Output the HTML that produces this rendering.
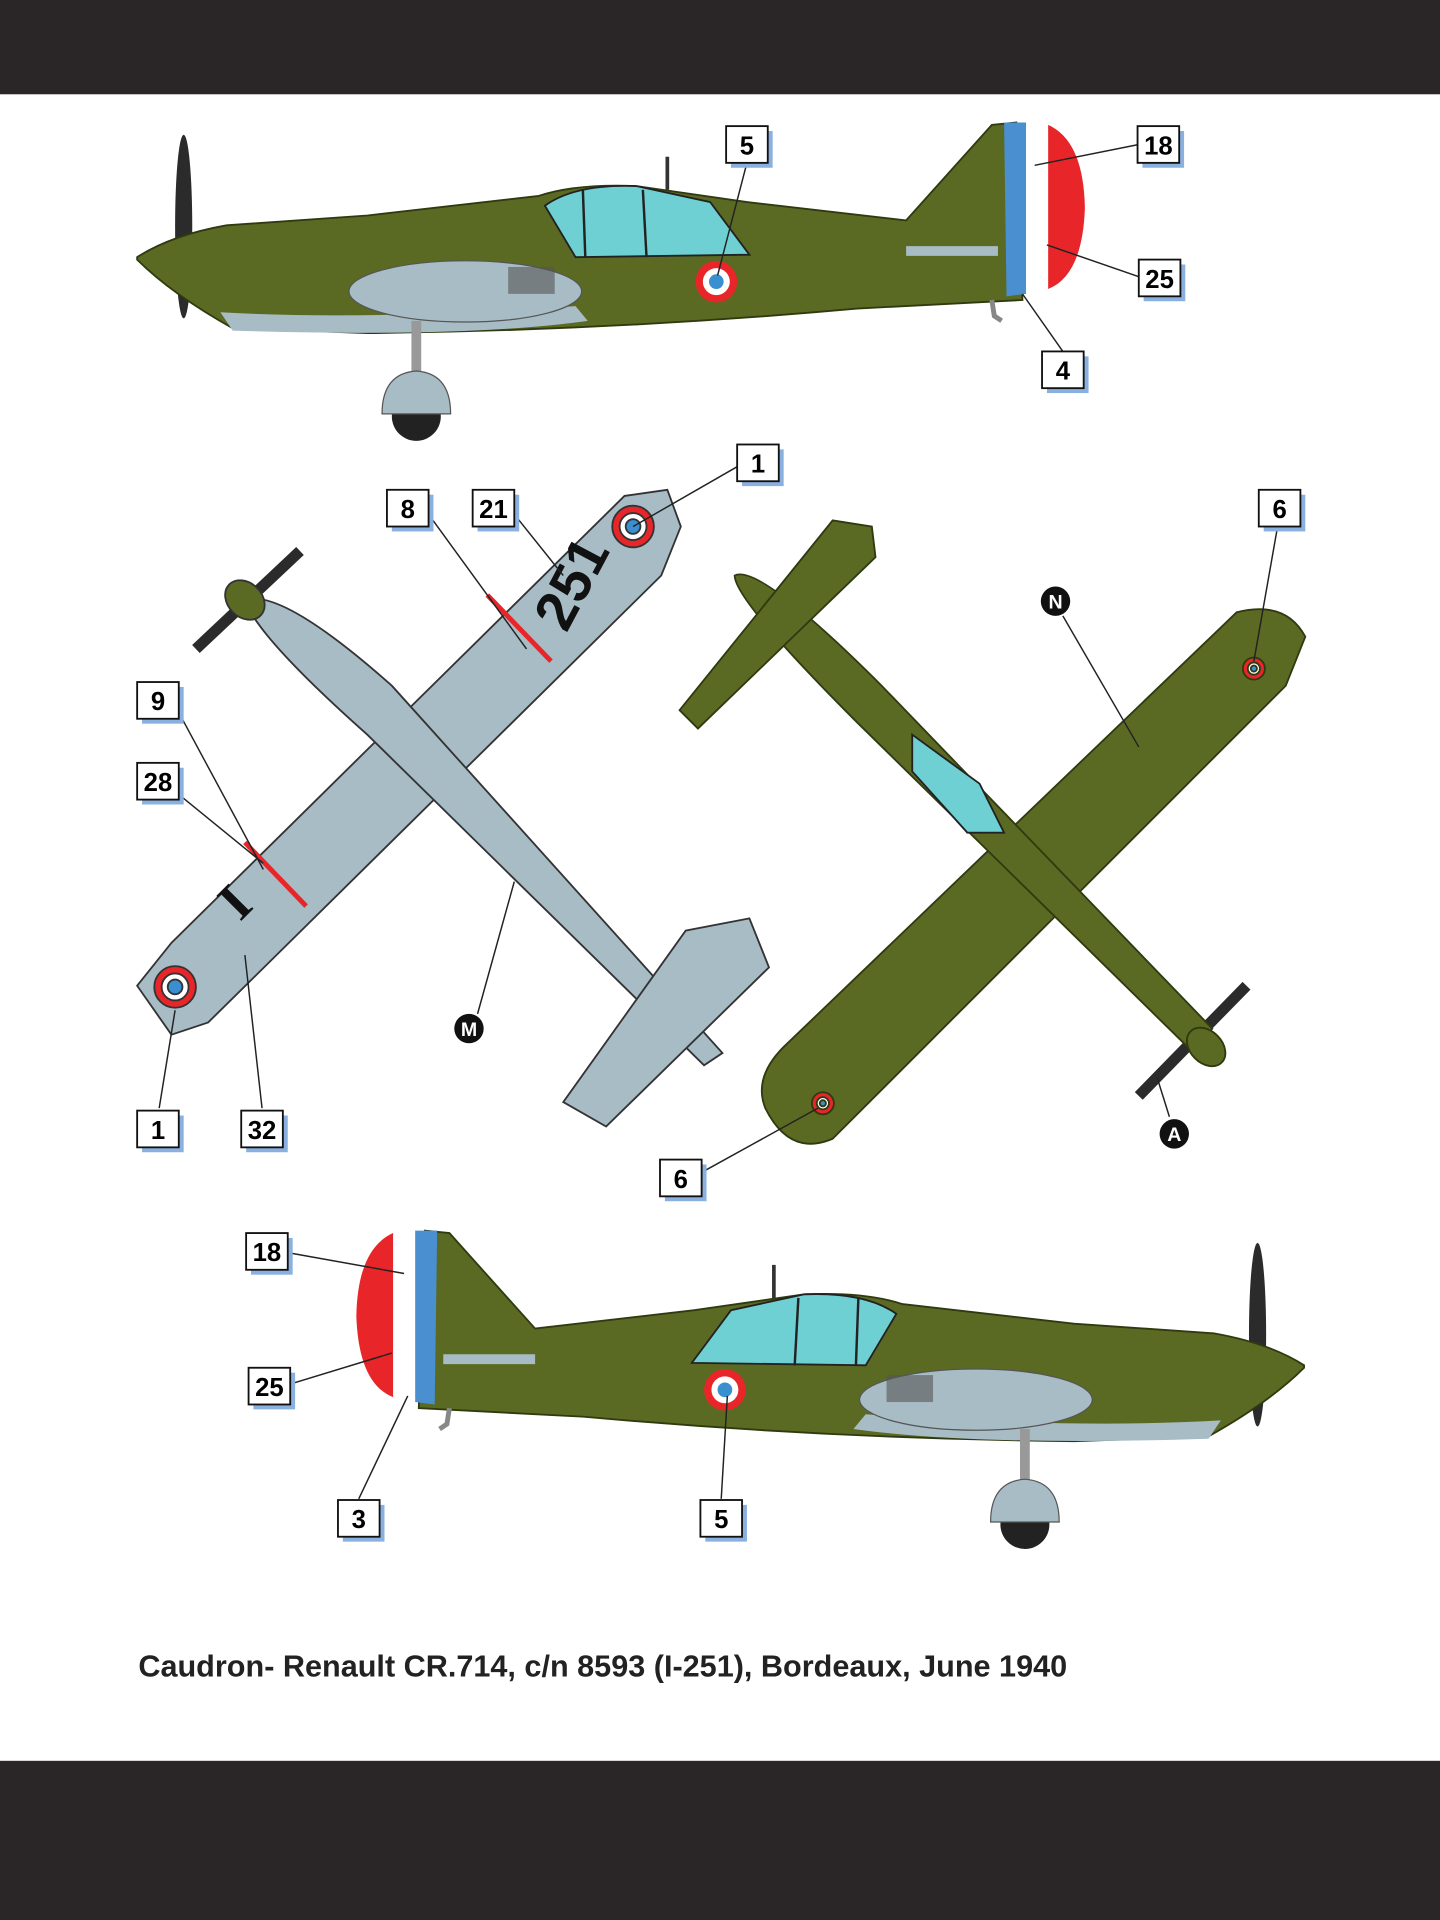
<!DOCTYPE html>
<html><head><meta charset="utf-8"><style>
html,body{margin:0;padding:0;background:#fff;width:1440px;height:1920px;overflow:hidden}
svg{display:block}
.lb{font-family:"Liberation Sans",Arial,sans-serif;font-weight:bold;font-size:21px;text-anchor:middle}
</style></head><body>
<svg width="1440" height="1920" viewBox="0 0 1176 1568" xmlns="http://www.w3.org/2000/svg">
<defs>
<g id="side">
  <ellipse cx="150" cy="185" rx="7" ry="75" fill="#2b2b2b"/>
  <path d="M112,210 Q140,192 185,184 L300,176 L440,160 Q470,150 520,152 L610,165 L740,180 L810,102 L830,100 L835,245 L700,252 Q500,270 300,272 L190,268 Q140,240 112,212 Z" fill="#5b6a22" stroke="#2f3a10" stroke-width="1.5"/>
  <path d="M820,100 L838,100 L838,240 L822,242 Z" fill="#4a8fd0"/>
  <path d="M838,100 L856,102 L856,236 L838,240 Z" fill="#fff"/>
  <path d="M856,102 Q885,115 886,170 Q884,225 856,236 Z" fill="#e8262a"/>
  <path d="M180,255 Q300,262 470,250 L480,262 Q380,276 190,270 Z" fill="#a8bcc6"/>
  <ellipse cx="380" cy="238" rx="95" ry="25" fill="#a8bcc6" stroke="#555" stroke-width="1"/>
  <rect x="415" y="218" width="38" height="22" fill="#555" opacity=".6"/>
  <path d="M445,168 Q470,150 520,152 L580,165 L612,208 L470,210 Z" fill="#6fd0d4" stroke="#222" stroke-width="1.5"/>
  <line x1="476" y1="155" x2="478" y2="210" stroke="#222" stroke-width="2"/>
  <line x1="525" y1="155" x2="528" y2="210" stroke="#222" stroke-width="2"/>
  <path d="M740,205 L815,205" stroke="#a8bcc6" stroke-width="8"/>
  <line x1="545" y1="128" x2="545" y2="155" stroke="#333" stroke-width="3"/>
  <circle cx="585" cy="230" r="17" fill="#e8262a"/><circle cx="585" cy="230" r="11" fill="#fff"/><circle cx="585" cy="230" r="6" fill="#3a8fd0"/>
  <line x1="340" y1="262" x2="340" y2="320" stroke="#999" stroke-width="8"/>
  <circle cx="340" cy="340" r="20" fill="#222"/>
  <path d="M312,338 Q312,305 340,303 Q368,305 368,338 Z" fill="#a8bcc6" stroke="#555"/>
  <path d="M810,245 L812,258 L818,262" stroke="#888" stroke-width="4" fill="none"/>
</g>
</defs>
<rect x="0" y="0" width="1176" height="77" fill="#2a2628"/>
<rect x="0" y="1438" width="1176" height="130" fill="#2a2628"/>

<use href="#side"/>
<g transform="translate(1177,905) scale(-1,1)"><use href="#side"/></g>

<g stroke="#333" stroke-width="1.5">
  <path d="M160,530 L245,450" stroke="#2b2b2b" stroke-width="9"/>
  <path d="M112,805 L140,770 L510,405 L545,400 L556,430 L540,470 L170,835 L140,845 Z" fill="#a8bcc6"/>
  <path d="M200,490 Q230,480 320,560 L590,860 L575,870 L300,600 Q210,520 200,490 Z" fill="#a8bcc6"/>
  <path d="M460,900 L495,920 L628,790 L612,750 L560,760 Z" fill="#a8bcc6"/>
  <ellipse cx="200" cy="490" rx="18" ry="14" fill="#5b6a22" transform="rotate(45 200 490)"/>
  <circle cx="517" cy="430" r="17" fill="#e8262a"/><circle cx="517" cy="430" r="11" fill="#fff"/><circle cx="517" cy="430" r="6" fill="#3a8fd0"/>
  <circle cx="143" cy="806" r="17" fill="#e8262a"/><circle cx="143" cy="806" r="11" fill="#fff"/><circle cx="143" cy="806" r="6" fill="#3a8fd0"/>
  <line x1="398" y1="486" x2="450" y2="540" stroke="#e8262a" stroke-width="4"/>
  <line x1="200" y1="688" x2="250" y2="740" stroke="#e8262a" stroke-width="4"/>
</g>
<text x="470" y="490" font-family="Liberation Sans,sans-serif" font-weight="bold" font-size="46" transform="rotate(-62 470 478)" text-anchor="middle" fill="#111">251</text>
<text x="190" y="752" font-family="Liberation Serif,serif" font-weight="bold" font-size="44" transform="rotate(-45 190 735)" text-anchor="middle" fill="#111">I</text>

<g stroke="#2f3a10" stroke-width="1.5">
  <path d="M930,895 L1018,805" stroke="#2b2b2b" stroke-width="9"/>
  <path d="M625,905 Q615,880 640,855 L1010,500 Q1050,490 1066,520 L1050,560 L680,930 Q645,945 625,905 Z" fill="#5b6a22"/>
  <path d="M600,470 Q620,460 720,560 L990,840 L975,860 L700,590 Q600,490 600,470 Z" fill="#5b6a22"/>
  <path d="M555,580 L570,595 L715,455 L712,430 L680,425 Z" fill="#5b6a22"/>
  <ellipse cx="985" cy="855" rx="18" ry="13" fill="#5b6a22" transform="rotate(45 985 855)"/>
  <path d="M745,600 L800,640 L820,680 L790,680 L745,630 Z" fill="#6fd0d4" stroke="#222"/>
  <circle cx="1024" cy="546" r="9" fill="#e8262a"/><circle cx="1024" cy="546" r="5" fill="#fff"/><circle cx="1024" cy="546" r="2.5" fill="#3a8fd0"/>
  <circle cx="672" cy="901" r="9" fill="#e8262a"/><circle cx="672" cy="901" r="5" fill="#fff"/><circle cx="672" cy="901" r="2.5" fill="#3a8fd0"/>
</g>

<g stroke="#222" stroke-width="1.2" fill="none">
  <line x1="610" y1="133" x2="586" y2="225"/>
  <line x1="930" y1="118" x2="845" y2="135"/>
  <line x1="930" y1="226" x2="855" y2="200"/>
  <line x1="868" y1="287" x2="835" y2="240"/>
  <line x1="604" y1="380" x2="517" y2="430"/>
  <line x1="350" y1="420" x2="430" y2="530"/>
  <line x1="420" y1="420" x2="460" y2="470"/>
  <line x1="145" y1="580" x2="215" y2="710"/>
  <line x1="145" y1="648" x2="215" y2="705"/>
  <line x1="130" y1="905" x2="143" y2="825"/>
  <line x1="214" y1="905" x2="200" y2="780"/>
  <line x1="1043" y1="432" x2="1024" y2="540"/>
  <line x1="572" y1="958" x2="668" y2="905"/>
  <line x1="868" y1="503" x2="930" y2="610"/>
  <line x1="390" y1="828" x2="420" y2="720"/>
  <line x1="955" y1="912" x2="945" y2="880"/>
  <line x1="235" y1="1023" x2="330" y2="1040"/>
  <line x1="238" y1="1130" x2="320" y2="1105"/>
  <line x1="293" y1="1224" x2="333" y2="1140"/>
  <line x1="589" y1="1224" x2="594" y2="1140"/>
</g>

<g class="lb">
<g transform="translate(610,118)"><rect x="-13" y="-11" width="34" height="30" fill="#8ab0e0"/><rect x="-17" y="-15" width="34" height="30" fill="#fff" stroke="#111" stroke-width="1.5"/><text y="8">5</text></g>
<g transform="translate(946,118)"><rect x="-13" y="-11" width="34" height="30" fill="#8ab0e0"/><rect x="-17" y="-15" width="34" height="30" fill="#fff" stroke="#111" stroke-width="1.5"/><text y="8">18</text></g>
<g transform="translate(947,227)"><rect x="-13" y="-11" width="34" height="30" fill="#8ab0e0"/><rect x="-17" y="-15" width="34" height="30" fill="#fff" stroke="#111" stroke-width="1.5"/><text y="8">25</text></g>
<g transform="translate(868,302)"><rect x="-13" y="-11" width="34" height="30" fill="#8ab0e0"/><rect x="-17" y="-15" width="34" height="30" fill="#fff" stroke="#111" stroke-width="1.5"/><text y="8">4</text></g>
<g transform="translate(619,378)"><rect x="-13" y="-11" width="34" height="30" fill="#8ab0e0"/><rect x="-17" y="-15" width="34" height="30" fill="#fff" stroke="#111" stroke-width="1.5"/><text y="8">1</text></g>
<g transform="translate(333,415)"><rect x="-13" y="-11" width="34" height="30" fill="#8ab0e0"/><rect x="-17" y="-15" width="34" height="30" fill="#fff" stroke="#111" stroke-width="1.5"/><text y="8">8</text></g>
<g transform="translate(403,415)"><rect x="-13" y="-11" width="34" height="30" fill="#8ab0e0"/><rect x="-17" y="-15" width="34" height="30" fill="#fff" stroke="#111" stroke-width="1.5"/><text y="8">21</text></g>
<g transform="translate(129,572)"><rect x="-13" y="-11" width="34" height="30" fill="#8ab0e0"/><rect x="-17" y="-15" width="34" height="30" fill="#fff" stroke="#111" stroke-width="1.5"/><text y="8">9</text></g>
<g transform="translate(129,638)"><rect x="-13" y="-11" width="34" height="30" fill="#8ab0e0"/><rect x="-17" y="-15" width="34" height="30" fill="#fff" stroke="#111" stroke-width="1.5"/><text y="8">28</text></g>
<g transform="translate(129,922)"><rect x="-13" y="-11" width="34" height="30" fill="#8ab0e0"/><rect x="-17" y="-15" width="34" height="30" fill="#fff" stroke="#111" stroke-width="1.5"/><text y="8">1</text></g>
<g transform="translate(214,922)"><rect x="-13" y="-11" width="34" height="30" fill="#8ab0e0"/><rect x="-17" y="-15" width="34" height="30" fill="#fff" stroke="#111" stroke-width="1.5"/><text y="8">32</text></g>
<g transform="translate(1045,415)"><rect x="-13" y="-11" width="34" height="30" fill="#8ab0e0"/><rect x="-17" y="-15" width="34" height="30" fill="#fff" stroke="#111" stroke-width="1.5"/><text y="8">6</text></g>
<g transform="translate(556,962)"><rect x="-13" y="-11" width="34" height="30" fill="#8ab0e0"/><rect x="-17" y="-15" width="34" height="30" fill="#fff" stroke="#111" stroke-width="1.5"/><text y="8">6</text></g>
<g transform="translate(218,1022)"><rect x="-13" y="-11" width="34" height="30" fill="#8ab0e0"/><rect x="-17" y="-15" width="34" height="30" fill="#fff" stroke="#111" stroke-width="1.5"/><text y="8">18</text></g>
<g transform="translate(220,1132)"><rect x="-13" y="-11" width="34" height="30" fill="#8ab0e0"/><rect x="-17" y="-15" width="34" height="30" fill="#fff" stroke="#111" stroke-width="1.5"/><text y="8">25</text></g>
<g transform="translate(293,1240)"><rect x="-13" y="-11" width="34" height="30" fill="#8ab0e0"/><rect x="-17" y="-15" width="34" height="30" fill="#fff" stroke="#111" stroke-width="1.5"/><text y="8">3</text></g>
<g transform="translate(589,1240)"><rect x="-13" y="-11" width="34" height="30" fill="#8ab0e0"/><rect x="-17" y="-15" width="34" height="30" fill="#fff" stroke="#111" stroke-width="1.5"/><text y="8">5</text></g>
</g>
<g font-family="Liberation Sans,sans-serif" font-weight="bold" font-size="16" text-anchor="middle" fill="#fff">
<circle cx="862" cy="491" r="12" fill="#111"/><text x="862" y="497">N</text>
<circle cx="383" cy="840" r="12" fill="#111"/><text x="383" y="846">M</text>
<circle cx="959" cy="926" r="12" fill="#111"/><text x="959" y="932">A</text>
</g>
<text x="113" y="1369" font-family="Liberation Sans,Arial,sans-serif" font-weight="bold" font-size="25" fill="#222">Caudron- Renault CR.714, c/n 8593 (I-251), Bordeaux, June 1940</text>
</svg>
</body></html>
